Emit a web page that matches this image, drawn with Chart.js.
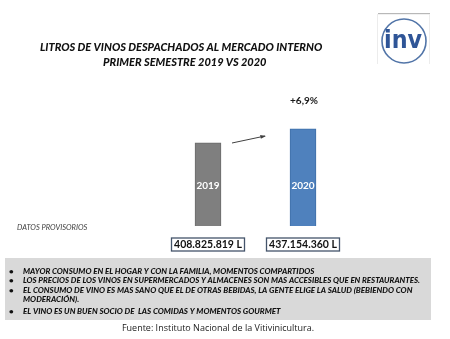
<!DOCTYPE html>
<html>
<head>
<meta charset="utf-8">
<script src="https://cdn.jsdelivr.net/npm/chart.js@4"></script>
<style>
  html, body { margin: 0; padding: 0; background: #fff; }
  #wrap { width: 450px; height: 339px; }
</style>
</head>
<body>
<div id="wrap"><canvas id="vinos-chart" width="450" height="339"></canvas></div>
<script>
const years = ["2019", "2020"];
const litros = [408825819, 437154360];
const barColors = ["#7f7f7f", "#4f81bd"];
const titleLines = ["LITROS DE VINOS DESPACHADOS AL MERCADO INTERNO", "PRIMER SEMESTRE 2019 VS 2020"];
const notas = [
    "MAYOR CONSUMO EN EL HOGAR Y CON LA FAMILIA, MOMENTOS COMPARTIDOS",
    "LOS PRECIOS DE LOS VINOS EN SUPERMERCADOS Y ALMACENES SON MAS ACCESIBLES QUE EN RESTAURANTES.",
    "EL CONSUMO DE VINO ES MAS SANO QUE EL DE OTRAS BEBIDAS, LA GENTE ELIGE LA SALUD (BEBIENDO CON",
    "MODERACIÓN).",
    "EL VINO ES UN BUEN SOCIO DE  LAS COMIDAS Y MOMENTOS GOURMET"
];
const bulletRows = [true, true, true, false, true];
const fuente = "Fuente: Instituto Nacional de la Vitivinicultura.";

const fmtLitros = (v) => v.toString().replace(/\B(?=(\d{3})+(?!\d))/g, ".") + " L";
const variacion = () => {
    let p = (litros[1] / litros[0] - 1) * 100;
    return "+" + p.toFixed(1).replace(".", ",") + "%";
};

// fit text into a given width by squeezing horizontally if needed
const fitText = (c, txt, x, y, maxW) => {
    let w = c.measureText(txt).width;
    if (w > maxW) {
        c.save();
        c.translate(x, y);
        c.scale(maxW / w, 1);
        c.fillText(txt, 0, 0);
        c.restore();
    } else {
        c.fillText(txt, x, y);
    }
};

const decor = {
    id: 'decor',
    afterDatasetsDraw(chart) {
        const c = chart.ctx;
        const meta = chart.getDatasetMeta(0);
        const b0 = meta.data[0], b1 = meta.data[1];
        c.save();

        // title
        c.fillStyle = "#111111";
        c.textAlign = "left";
        c.textBaseline = "middle";
        c.font = "italic 900 11px Lato";
        fitText(c, titleLines[0], 40, 47, 289);
        fitText(c, titleLines[1], 103, 62, 164);

        // logo
        c.fillStyle = "#b8b8b8";
        c.fillRect(378, 13, 52, 1.2);
        c.fillStyle = "#ececec";
        c.fillRect(377, 14, 1, 50);
        c.fillRect(429, 14, 1, 50);
        c.strokeStyle = "#5275a8";
        c.lineWidth = 1.6;
        c.beginPath();
        c.arc(404, 41, 22, 0, Math.PI * 2);
        c.stroke();
        c.fillStyle = "#2f5597";
        c.font = "bold 24px 'DejaVu Sans'";
        c.textAlign = "left";
        fitText(c, "inv", 384, 42, 38);

        // bar labels inside the bars
        c.fillStyle = "#ffffff";
        c.font = "bold 10px Lato";
        c.textAlign = "center";
        c.fillText(years[0], b0.x, 186);
        c.fillText(years[1], b1.x, 186);

        // growth label and arrow
        c.fillStyle = "#1a1a1a";
        c.font = "bold 10px Lato";
        c.fillText(variacion(), b1.x + 1, 101);
        c.strokeStyle = "#404040";
        c.lineWidth = 1;
        let ax0 = b0.x + b0.width / 2 + 11, ay0 = 143;
        let ax1 = b1.x - b1.width / 2 - 25, ay1 = 136;
        c.beginPath();
        c.moveTo(ax0, ay0);
        c.lineTo(ax1, ay1);
        c.stroke();
        let ang = Math.atan2(ay1 - ay0, ax1 - ax0);
        c.fillStyle = "#404040";
        c.beginPath();
        c.moveTo(ax1 + 1, ay1);
        c.lineTo(ax1 - 5 * Math.cos(ang - 0.4), ay1 - 5 * Math.sin(ang - 0.4));
        c.lineTo(ax1 - 5 * Math.cos(ang + 0.4), ay1 - 5 * Math.sin(ang + 0.4));
        c.closePath();
        c.fill();

        // provisional note
        c.fillStyle = "#404040";
        c.font = "italic 7.5px Lato";
        c.textAlign = "left";
        c.fillText("DATOS PROVISORIOS", 17, 228);

        // value boxes
        [b0, b1].forEach((b, i) => {
            let bx = b.x - 36.5;
            c.fillStyle = "#ffffff";
            c.fillRect(bx, 238, 73, 13);
            c.strokeStyle = "#44546a";
            c.lineWidth = 1.3;
            c.strokeRect(bx, 238, 73, 13);
            c.fillStyle = "#111111";
            c.font = "bold 10.5px Lato";
            c.textAlign = "center";
            c.fillText(fmtLitros(litros[i]), b.x, 245);
        });

        // notes panel
        c.fillStyle = "#d9d9d9";
        c.fillRect(5, 258, 426, 62);
        c.fillStyle = "#111111";
        c.font = "italic 900 8px Lato";
        c.textAlign = "left";
        const rowY = [271, 280.7, 290.5, 299.5, 311.5];
        notas.forEach((t, i) => {
            if (bulletRows[i]) c.fillText("•", 9, rowY[i]);
            fitText(c, t, 23, rowY[i], 397);
        });

        // source
        c.fillStyle = "#222222";
        c.font = "9px 'Open Sans'";
        c.textAlign = "center";
        c.fillText(fuente, 218, 328);

        c.restore();
    }
};

var ctx = document.getElementById('vinos-chart');
var chart = new Chart(ctx, {
    type: 'bar',
    data: {
        labels: years,
        datasets: [{
            data: litros,
            backgroundColor: barColors,
            borderColor: ["#6b6b6b", "#3f6fa8"],
            borderWidth: 1,
            barThickness: 26
        }]
    },
    options: {
        responsive: false,
        animation: false,
        layout: {
            padding: { left: 160.5, right: 99.5, top: 98, bottom: 113 }
        },
        plugins: {
            legend: { display: false },
            tooltip: { enabled: false }
        },
        scales: {
            x: { display: false },
            y: { display: false, min: 240000000, max: 500000000 }
        }
    },
    plugins: [decor]
});
</script>
</body>
</html>
